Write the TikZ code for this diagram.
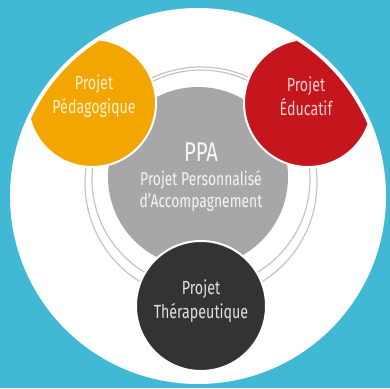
\documentclass[tikz,border=0pt]{standalone}
\usepackage{fontspec}
\setmainfont{Fira Sans}[FakeStretch=0.75]
\definecolor{bgteal}{HTML}{41B9D4}
\definecolor{ppaorange}{HTML}{F4A600}
\definecolor{ppared}{HTML}{C4161C}
\definecolor{ppadark}{HTML}{333333}
\definecolor{ppagrey}{HTML}{A7A7A7}
\definecolor{ringgrey}{HTML}{C4C4C4}
\tikzset{
  blob/.style={draw=white, line width=2pt},
  lbl/.style={align=center, font=\fontsize{19}{24}\selectfont},
}
\begin{document}
\begin{tikzpicture}[x=1pt,y=-1pt]
\fill[bgteal] (0,0) rectangle (390,388);
\useasboundingbox (0,0) rectangle (390,388);
\fill[white] (198,196) circle (188);
% rings
\draw[ringgrey, line width=1.2pt] (201,183) circle (116);
\draw[ringgrey, line width=1.2pt] (201,179) circle (109);
% grey centre
\fill[ppagrey] (198,177) circle (90);
\begin{scope}
\clip (198,196) circle (184);
\filldraw[blob, fill=ppaorange] (92,103) circle (64);
\filldraw[blob, fill=ppared] (308,103) circle (64);
\end{scope}
\filldraw[blob, fill=ppadark] (201,306) circle (65);
\node[lbl, text=white!82!ppaorange] (ped) at (94,96) {Projet\\Pédagogique};
\node[lbl, text=white!80!ppared] (edu) at (306,96) {Projet\\Éducatif};
\node[lbl, text=white!85!ppadark] (ther) at (201,301) {Projet\\Thérapeutique};
\node[font=\fontsize{27}{30}\selectfont, text=white!92!ppagrey] (ppa) at (201,152) {PPA};
\node[lbl, font=\fontsize{18.5}{22}\selectfont, text=white!88!ppagrey] (ppal) at (201,191) {Projet Personnalisé\\d’Accompagnement};
\end{tikzpicture}
\end{document}
